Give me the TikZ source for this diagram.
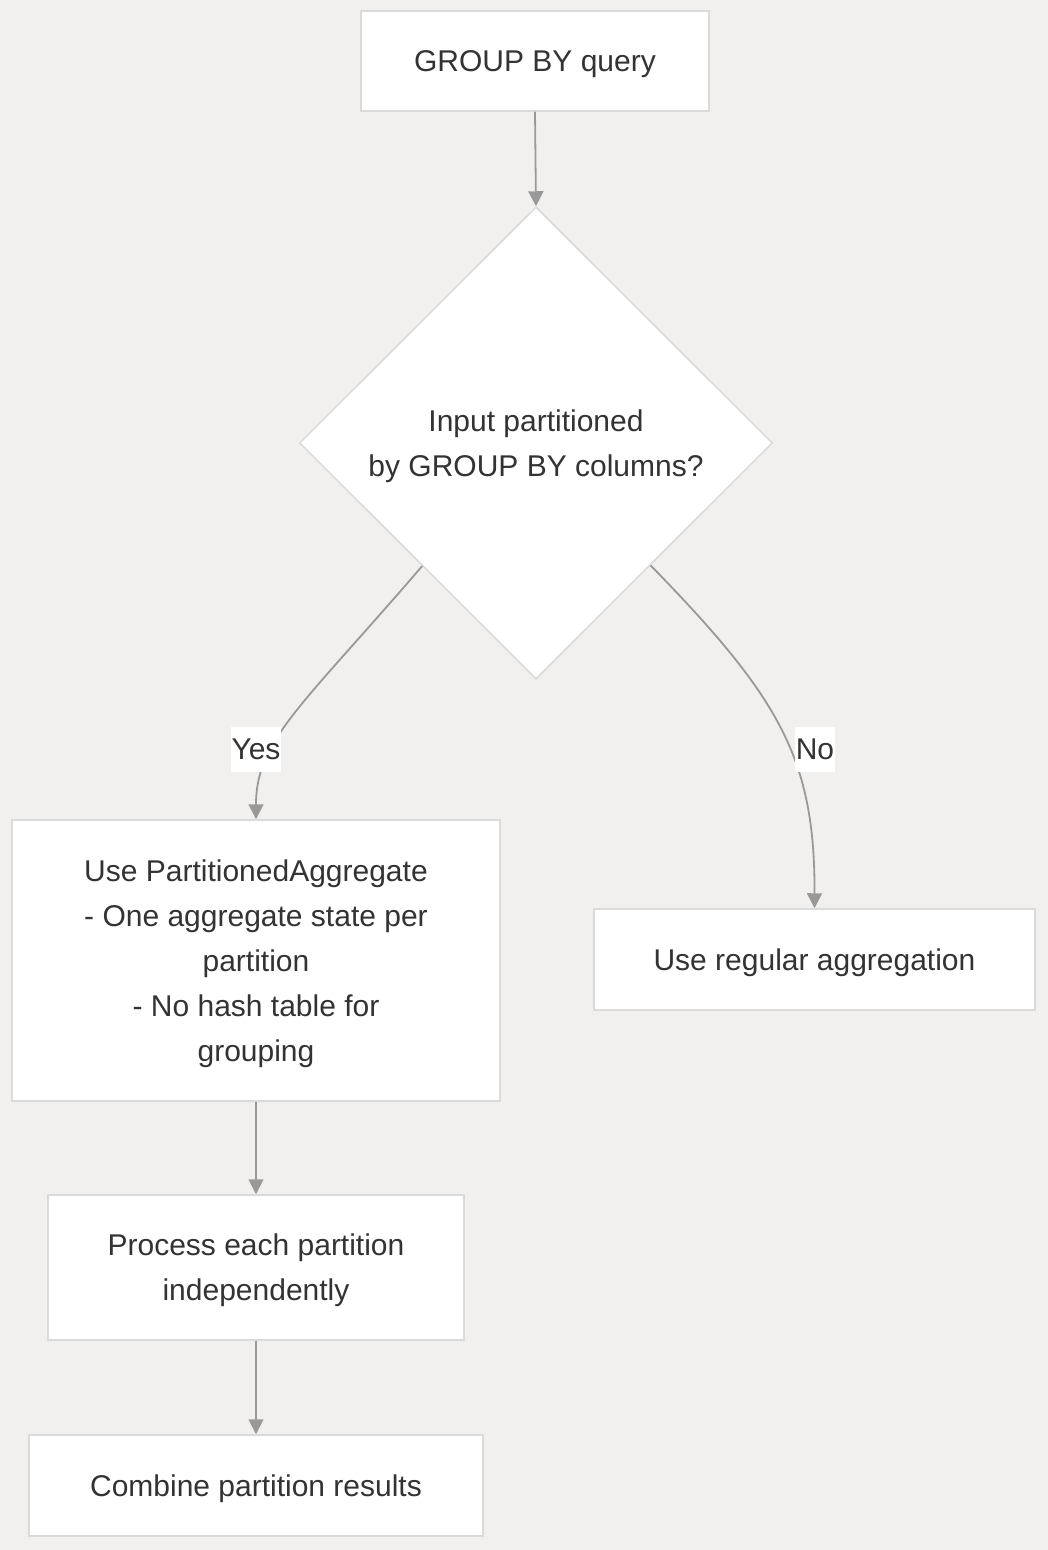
\documentclass[tikz,border=0pt]{standalone}
\usepackage{fontspec}
\setmainfont{Liberation Sans}
\usetikzlibrary{arrows.meta,shapes.geometric,calc}
\definecolor{bgc}{RGB}{241,240,239}
\definecolor{bordc}{RGB}{218,218,218}
\definecolor{edgec}{RGB}{153,153,153}
\definecolor{txtc}{RGB}{51,51,51}
\begin{document}
\begin{tikzpicture}[x=1pt,y=-1pt,
  every node/.style={font=\fontsize{30}{45}\selectfont, text=txtc},
  box/.style={draw=bordc, line width=1.5pt, fill=white, align=center, inner sep=0pt, text depth=0pt},
  decision/.style={diamond, draw=bordc, line width=1.5pt, fill=white, align=center, inner sep=0pt, aspect=1, text depth=0pt},
  conn/.style={draw=edgec, line width=1.8pt, -{Triangle[length=15pt,width=15pt]}},
  elabel/.style={fill=white, inner xsep=1pt, inner ysep=0pt, minimum height=45pt, text depth=0pt}
]
\fill[bgc] (0,0) rectangle (1048,1550);
\useasboundingbox (0,0) rectangle (1048,1550);

\node[box, minimum width=348pt, minimum height=100pt] (A) at (535,61) {GROUP BY query};
\node[decision, minimum width=473pt, minimum height=472pt] (Q) at (536,443) {Input partitioned\\by GROUP BY columns?};
\node[box, minimum width=488pt, minimum height=281pt] (B) at (256,960.5) {Use PartitionedAggregate\\- One aggregate state per\\partition\\- No hash table for\\grouping};
\node[box, minimum width=441pt, minimum height=101pt] (C) at (814.5,959.5) {Use regular aggregation};
\node[box, minimum width=416pt, minimum height=145pt] (D) at (256,1267.5) {Process each partition\\independently};
\node[box, minimum width=454pt, minimum height=101pt] (E) at (256,1485.5) {Combine partition results};

\coordinate (qy) at ($(Q.west)!0.52!(Q.south)$);
\coordinate (qn) at ($(Q.south)!0.483!(Q.east)$);

\draw[conn] (A.south) -- (Q.north);
\draw[conn] (qy) .. controls (302,706) and (256,740) .. (B.north);
\draw[conn] (qn) .. controls (780,698) and (815,759) .. (C.north);
\draw[conn] (B.south) -- (D.north);
\draw[conn] (D.south) -- (E.north);

\node[elabel] (ly) at (256,749.5) {Yes};
\node[elabel] (ln) at (815,749.5) {No};
\end{tikzpicture}
\end{document}
